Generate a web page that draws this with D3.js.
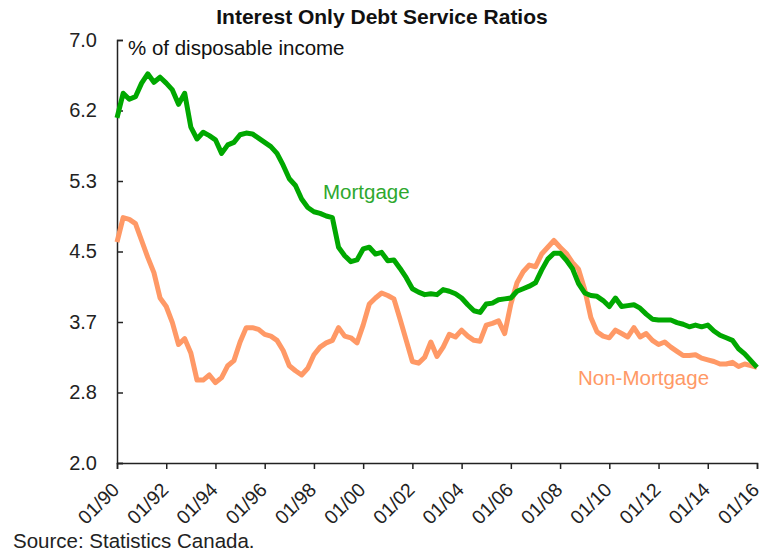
<!DOCTYPE html>
<html><head><meta charset="utf-8">
<script src="https://cdn.jsdelivr.net/npm/d3@7"></script>
<style>
body{margin:0;background:#fff;}
text{font-family:"Liberation Sans",Arial,sans-serif;}
</style></head>
<body><svg id="c" width="766" height="555"></svg>
<script>
// Quarterly observations, 1990Q1 .. 2016Q1
const startYear = 1990;
const mortgage = [6.08,6.37,6.30,6.33,6.49,6.60,6.50,6.56,6.49,6.41,6.24,6.37,5.97,5.83,5.91,5.87,5.82,5.66,5.76,5.79,
5.88,5.90,5.89,5.84,5.79,5.74,5.66,5.52,5.36,5.28,5.12,5.02,4.97,4.95,4.92,4.90,4.55,4.45,4.38,4.40,
4.53,4.55,4.47,4.49,4.39,4.40,4.30,4.19,4.06,4.02,3.99,4.00,3.99,4.05,4.03,4.00,3.95,3.87,3.80,3.78,
3.88,3.89,3.93,3.94,3.95,4.03,4.06,4.09,4.13,4.28,4.41,4.48,4.48,4.40,4.30,4.12,4.01,3.98,3.97,3.92,
3.85,3.95,3.85,3.86,3.87,3.83,3.76,3.70,3.69,3.69,3.69,3.66,3.64,3.61,3.63,3.61,3.63,3.56,3.51,3.48,
3.45,3.35,3.29,3.21,3.13];
const nonMortgage = [4.61,4.90,4.88,4.83,4.63,4.43,4.25,3.95,3.85,3.66,3.40,3.47,3.30,2.98,2.98,3.04,2.95,3.01,3.15,3.21,
3.43,3.60,3.60,3.58,3.52,3.50,3.45,3.33,3.15,3.09,3.04,3.12,3.28,3.37,3.42,3.45,3.60,3.50,3.48,3.42,
3.63,3.88,3.95,4.01,3.98,3.94,3.70,3.45,3.20,3.18,3.25,3.43,3.26,3.37,3.52,3.49,3.57,3.50,3.45,3.44,
3.63,3.65,3.68,3.53,3.88,4.13,4.26,4.34,4.32,4.47,4.55,4.63,4.55,4.48,4.37,4.29,4.05,3.72,3.55,3.50,
3.48,3.57,3.53,3.49,3.60,3.49,3.53,3.45,3.40,3.43,3.37,3.32,3.27,3.27,3.28,3.24,3.22,3.20,3.17,3.17,
3.19,3.14,3.17,3.15,3.13];
const xTickYears = [1990,1992,1994,1996,1998,2000,2002,2004,2006,2008,2010,2012,2014,2016];
const xTickLabels = ["01/90","01/92","01/94","01/96","01/98","01/00","01/02","01/04","01/06","01/08","01/10","01/12","01/14","01/16"];
const yTickLabels = ["2.0","2.8","3.7","4.5","5.3","6.2","7.0"];
const yMin = 2, yMax = 7;

const svg = d3.select("#c");
const x = d3.scaleLinear().domain([1990, 2016]).range([117, 757]);
const y = d3.scaleLinear().domain([yMin, yMax]).range([463, 40]);
const yTickVals = yTickLabels.map((_, i) => yMin + i * (yMax - yMin) / (yTickLabels.length - 1));

const qYear = i => startYear + i / 4;

// axes
const yAxis = d3.axisLeft(y).tickValues(yTickVals).tickSize(-6).tickPadding(20)
  .tickFormat((d, i) => yTickLabels[i]);
const gy = svg.append("g").attr("transform", "translate(117,0)").call(yAxis);
gy.select(".domain").attr("stroke", "#222").attr("stroke-width", 1.5);
gy.selectAll(".tick line").attr("stroke", "#222").attr("stroke-width", 1.5);
gy.selectAll(".tick text").attr("font-size", 20).attr("fill", "#222");

const xAxis = d3.axisBottom(x).tickValues(xTickYears).tickSize(6).tickFormat((d, i) => xTickLabels[i]);
const gx = svg.append("g").attr("transform", "translate(0,463)").call(xAxis);
gx.select(".domain").attr("stroke", "#222").attr("stroke-width", 1.5);
gx.selectAll(".tick line").attr("stroke", "#222").attr("stroke-width", 1.5);
gx.selectAll(".tick text").attr("font-size", 19.5).attr("fill", "#222")
  .attr("text-anchor", "end").attr("x", 0).attr("y", 0).attr("dy", 0)
  .attr("transform", "translate(3,28) rotate(-45)");

// lines
const line = d3.line().x((d, i) => x(qYear(i))).y(d => y(d));
svg.append("path").datum(nonMortgage).attr("d", line).attr("fill", "none")
  .attr("stroke", "#ff9966").attr("stroke-width", 5).attr("stroke-linejoin", "round");
svg.append("path").datum(mortgage).attr("d", line).attr("fill", "none")
  .attr("stroke", "#00a800").attr("stroke-width", 5).attr("stroke-linejoin", "round");

// labels
svg.append("text").attr("x", 382).attr("y", 24).attr("text-anchor", "middle")
  .attr("font-size", 21).attr("font-weight", "bold").attr("fill", "#111").text("Interest Only Debt Service Ratios");
svg.append("text").attr("x", 128).attr("y", 55).attr("font-size", 20.5).attr("fill", "#111").text("% of disposable income");
svg.append("text").attr("x", 323).attr("y", 199).attr("font-size", 20.5).attr("fill", "#2ea82e").text("Mortgage");
svg.append("text").attr("x", 578).attr("y", 385).attr("font-size", 20.5).attr("fill", "#ff9966").text("Non-Mortgage");
svg.append("text").attr("x", 13).attr("y", 548).attr("font-size", 20.5).attr("fill", "#222").text("Source: Statistics Canada.");
</script></body></html>
